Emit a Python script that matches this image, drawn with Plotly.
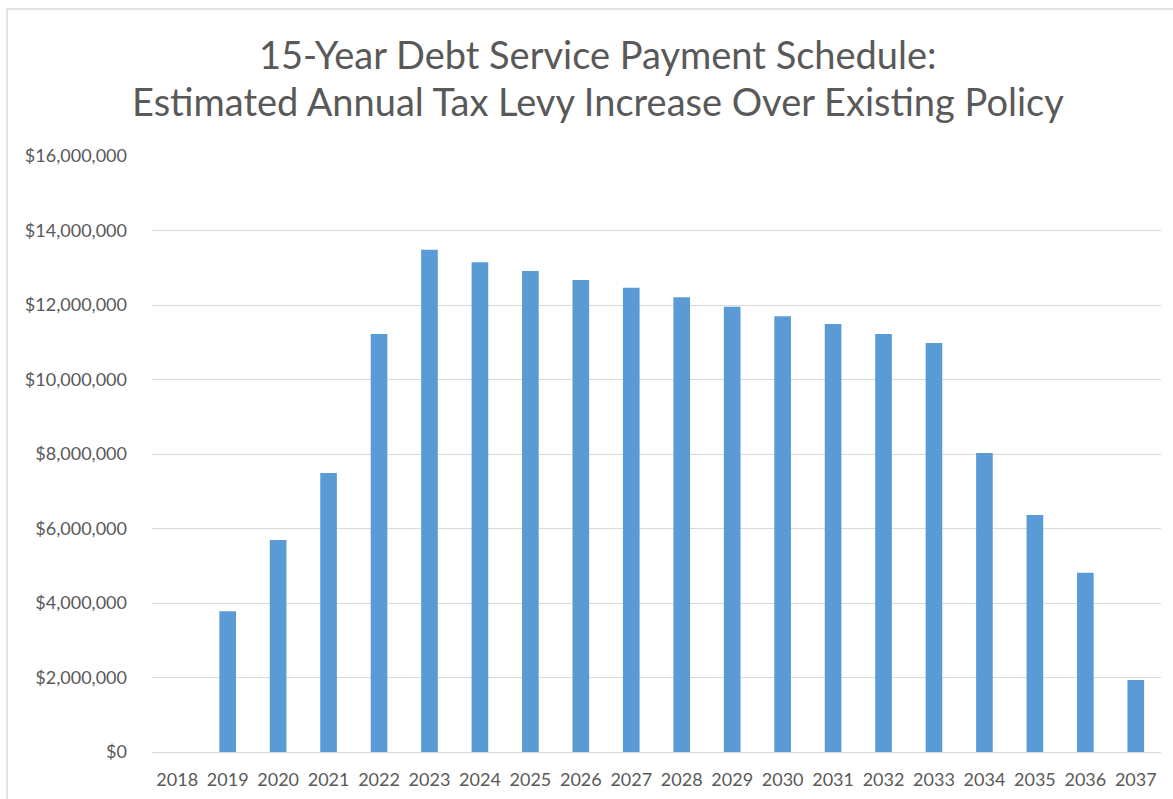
import plotly.graph_objects as go

years = [str(y) for y in range(2018, 2038)]
levy = [0, 3780000, 5690000, 7490000, 11220000, 13480000, 13150000, 12910000,
        12670000, 12460000, 12210000, 11950000, 11700000, 11490000, 11220000,
        10980000, 8030000, 6360000, 4810000, 1930000]
title_lines = ["15-Year Debt Service Payment Schedule:",
               "Estimated Annual Tax Levy Increase Over Existing Policy"]
y_ticks = list(range(0, 16000001, 2000000))

W, H = 1173, 799
L, R, T, B = 152, 12, 156, 47

fig = go.Figure(go.Bar(x=years, y=levy, marker=dict(color="#5B9BD5", line=dict(width=0)),
                       width=0.33))

font = "Lato, 'Open Sans', sans-serif"
fig.update_layout(
    width=W, height=H,
    margin=dict(l=L, r=R, t=T, b=B, autoexpand=False),
    paper_bgcolor="white", plot_bgcolor="white",
    showlegend=False,
    font=dict(family=font, color="#595959", size=18),
    xaxis=dict(type="category", showgrid=False, showline=False, ticks="",
               automargin=False,
               tickfont=dict(size=18, color="#595959"), ticklabelstandoff=15),
    yaxis=dict(range=[0, 16000000], tickvals=y_ticks,
               ticktext=["${:,}".format(v) for v in y_ticks],
               automargin=False,
               showgrid=True, gridcolor="#D9D9D9", gridwidth=1,
               zeroline=True, zerolinecolor="#D9D9D9", zerolinewidth=1,
               showline=False, ticks="", tickfont=dict(size=18, color="#595959"),
               ticklabelstandoff=24),
)

pw = W - L - R
ph = H - T - B
def px_x(p):
    return (p - L) / pw
def px_y(p):
    return (H - B - p) / ph

# chart border (cropped at right/bottom)
fig.add_shape(type="rect", xref="paper", yref="paper",
              x0=px_x(7), x1=px_x(1200), y0=px_y(830), y1=px_y(9),
              line=dict(color="#D9D9D9", width=1.5), layer="below")

for txt, cy in zip(title_lines, [54, 101]):
    fig.add_annotation(text=txt, xref="paper", yref="paper",
                       x=px_x(598), y=px_y(cy), xanchor="center", yanchor="middle",
                       showarrow=False, font=dict(size=38, color="#595959", family=font))

fig.write_html("out.html")
